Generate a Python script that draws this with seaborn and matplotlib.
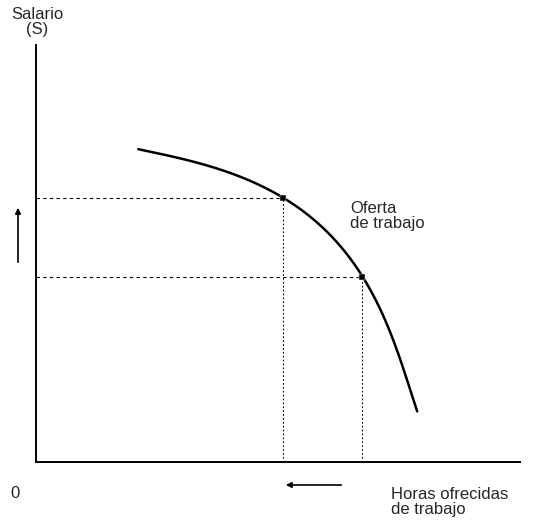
import numpy as np
import pandas as pd
import seaborn as sns
import matplotlib.pyplot as plt

# curve of labour supply (axis units ~ pixels from origin)
horas = [102, 134, 184, 217, 247, 276, 297, 326, 344, 361, 374, 381]
salario = [313, 306, 292, 280, 264, 245, 225, 185, 152, 112, 75, 50]

# the two marked points on the curve
punto_horas = [247, 326]
punto_salario = [264, 185]

sns.set_style("white")
plt.rcParams['font.family'] = ['Liberation Sans', 'DejaVu Sans']

fig = plt.figure(figsize=(5.34, 5.20), dpi=100)
ax = fig.add_axes([36 / 534, 58 / 520, 484 / 534, 417 / 520])

# smooth the hand-read points for drawing (chord length parameter, low order fit)
hx = np.array(horas, float)
sy = np.array(salario, float)
s = np.concatenate([[0], np.cumsum(np.hypot(np.diff(hx), np.diff(sy)))])
s = s / s[-1]
ss = np.linspace(0, 1, 300)
fx = np.polyval(np.polyfit(s, hx, 4), ss)
fy = np.polyval(np.polyfit(s, sy, 4), ss)
df = pd.DataFrame({"horas": fx, "salario": fy})
sns.lineplot(data=df, x="horas", y="salario", sort=False, color="black", lw=1.8, ax=ax)

# guide lines
for h, v in zip(punto_horas, punto_salario):
    ax.plot([0, h], [v, v], ls=(0, (3, 3)), color="black", lw=0.8)
    ax.plot([h, h], [0, v], ls=(0, (1.5, 2)), color="black", lw=0.8)
sns.scatterplot(x=punto_horas, y=punto_salario, color="black", s=14, marker="s", ax=ax, zorder=5)

ax.set_xlim(0, 484)
ax.set_ylim(0, 417)
ax.set_xticks([])
ax.set_yticks([])
ax.set_xlabel("")
ax.set_ylabel("")
sns.despine(ax=ax)
for sp in ["left", "bottom"]:
    ax.spines[sp].set_linewidth(1.4)
    ax.spines[sp].set_color("black")

# arrows outside the axes
ax.annotate("", xy=(-18, 257), xytext=(-18, 197), annotation_clip=False,
            arrowprops=dict(arrowstyle="-|>", color="black", lw=1.2, mutation_scale=8))
ax.annotate("", xy=(247, -23), xytext=(308, -23), annotation_clip=False,
            arrowprops=dict(arrowstyle="-|>", color="black", lw=1.2, mutation_scale=8))

# texts
ax.text(1, 440, "Salario\n(S)", ha="center", va="center", fontsize=12, linespacing=0.95, clip_on=False)
ax.text(-21, -32, "0", ha="center", va="center", fontsize=12, clip_on=False)
ax.text(355, -40, "Horas ofrecidas\nde trabajo", ha="left", va="center", fontsize=12, linespacing=0.95, clip_on=False)
ax.text(314, 246, "Oferta\nde trabajo", ha="left", va="center", fontsize=12, linespacing=0.95)

plt.savefig("out.png", dpi=100)
